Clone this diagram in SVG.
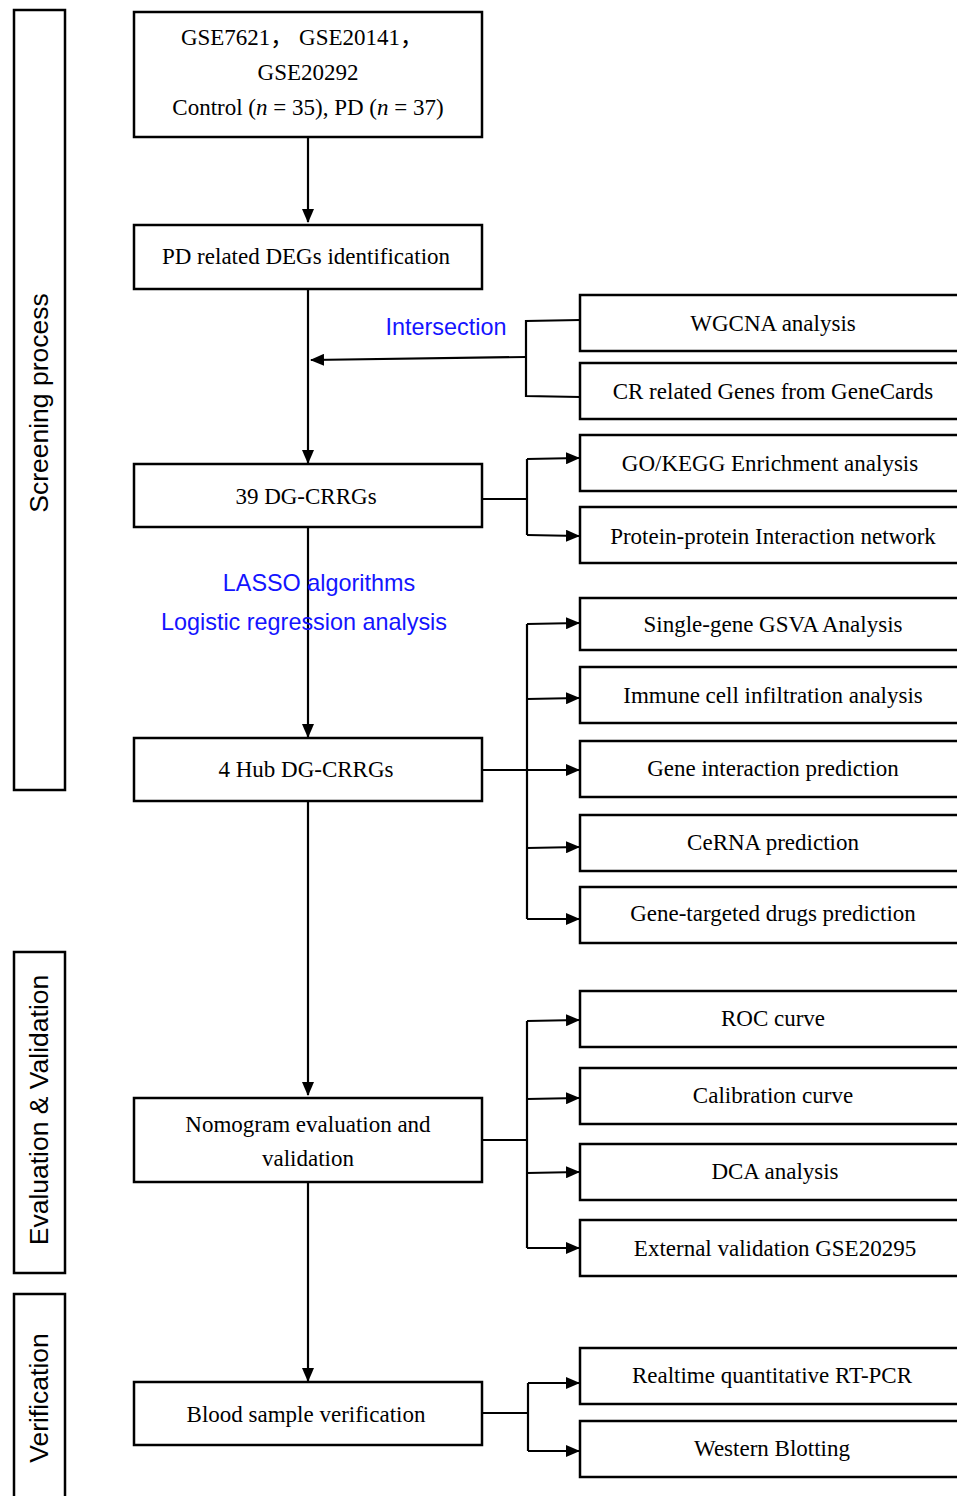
<svg xmlns="http://www.w3.org/2000/svg" width="957" height="1496" viewBox="0 0 957 1496">
<defs>
<marker id="ah" markerWidth="14" markerHeight="12" refX="13" refY="6" orient="auto" markerUnits="userSpaceOnUse">
<path d="M0,0 L14,6 L0,12 Z" fill="#000"/>
</marker>
<style>
.box{fill:#fff;stroke:#000;stroke-width:2.5}
.t{font-family:"Liberation Serif","Times New Roman","Noto Sans CJK SC",serif;font-size:23px;fill:#000;text-anchor:middle;dominant-baseline:central}
.b{font-family:"Liberation Sans",Arial,sans-serif;font-size:23.4px;fill:#1414ff;text-anchor:middle;dominant-baseline:central}
.v{font-family:"Liberation Sans",Arial,sans-serif;font-size:26.5px;fill:#000;text-anchor:middle;dominant-baseline:central}
.ln{fill:none;stroke:#000;stroke-width:2.2}
.ar{fill:none;stroke:#000;stroke-width:2.2;marker-end:url(#ah)}
</style>
</defs>
<rect width="957" height="1496" fill="#fff"/>
<g id="side-labels">
<g id="screening"><rect class="box" x="14" y="10" width="51" height="780"/><text class="v" transform="translate(39,403) rotate(-90)">Screening process</text></g>
<g id="evaluation"><rect class="box" x="14" y="952" width="51" height="321"/><text class="v" transform="translate(39,1110) rotate(-90)">Evaluation &amp; Validation</text></g>
<g id="verification"><rect class="box" x="14" y="1294" width="51" height="215"/><text class="v" transform="translate(39,1398) rotate(-90)">Verification</text></g>
</g>
<g id="connectors">
<line class="ar" x1="308" y1="137" x2="308" y2="222"/>
<line class="ar" x1="308" y1="289" x2="308" y2="463"/>
<line class="ar" x1="308" y1="527" x2="308" y2="737"/>
<line class="ar" x1="308" y1="801" x2="308" y2="1095"/>
<line class="ar" x1="308" y1="1182" x2="308" y2="1381"/>
<polyline class="ln" points="580,320 526,321 526,396 580,397"/>
<line class="ar" x1="526" y1="357" x2="311" y2="360"/>
<polyline class="ln" points="482,499 527,499"/>
<line class="ln" x1="527" y1="459" x2="527" y2="535"/>
<line class="ar" x1="527" y1="459" x2="579" y2="458"/>
<line class="ar" x1="527" y1="535" x2="579" y2="536"/>
<line class="ln" x1="527" y1="624" x2="527" y2="919"/>
<line class="ar" x1="480" y1="770" x2="579" y2="770"/>
<line class="ar" x1="527" y1="624" x2="579" y2="623"/>
<line class="ar" x1="527" y1="699" x2="579" y2="698"/>
<line class="ar" x1="527" y1="848" x2="579" y2="847"/>
<line class="ar" x1="527" y1="919" x2="579" y2="919"/>
<line class="ln" x1="482" y1="1140" x2="527" y2="1140"/>
<line class="ln" x1="527" y1="1021" x2="527" y2="1248"/>
<line class="ar" x1="527" y1="1021" x2="579" y2="1020"/>
<line class="ar" x1="527" y1="1099" x2="579" y2="1098"/>
<line class="ar" x1="527" y1="1173" x2="579" y2="1172"/>
<line class="ar" x1="527" y1="1248" x2="579" y2="1248"/>
<line class="ln" x1="482" y1="1413" x2="528" y2="1413"/>
<line class="ln" x1="528" y1="1383" x2="528" y2="1451"/>
<line class="ar" x1="528" y1="1383" x2="579" y2="1383"/>
<line class="ar" x1="528" y1="1451" x2="579" y2="1451"/>
<text class="b" x="446" y="327">Intersection</text>
<text class="b" x="319" y="583">LASSO algorithms</text>
<text class="b" x="304" y="622">Logistic regression analysis</text>
</g>
<g id="n1"><rect class="box" x="134" y="12" width="348" height="125"/>
<text class="t" x="302" y="37">GSE7621， GSE20141，</text>
<text class="t" x="308" y="72">GSE20292</text>
<text class="t" x="308" y="107">Control (<tspan font-style="italic">n</tspan> = 35), PD (<tspan font-style="italic">n</tspan> = 37)</text></g>
<g id="n2"><rect class="box" x="134" y="225" width="348" height="64"/><text class="t" x="306" y="256">PD related DEGs identification</text></g>
<g id="n3"><rect class="box" x="134" y="464" width="348" height="63"/><text class="t" x="306" y="496">39 DG-CRRGs</text></g>
<g id="n4"><rect class="box" x="134" y="738" width="348" height="63"/><text class="t" x="306" y="769">4 Hub DG-CRRGs</text></g>
<g id="n5"><rect class="box" x="134" y="1098" width="348" height="84"/><text class="t" x="308" y="1124">Nomogram evaluation and</text><text class="t" x="308" y="1158">validation</text></g>
<g id="n6"><rect class="box" x="134" y="1382" width="348" height="63"/><text class="t" x="306" y="1414">Blood sample verification</text></g>
<g id="r1"><rect class="box" x="580" y="295" width="390" height="56"/><text class="t" x="773" y="323">WGCNA analysis</text></g>
<g id="r2"><rect class="box" x="580" y="363" width="390" height="56"/><text class="t" x="773" y="391">CR related Genes from GeneCards</text></g>
<g id="r3"><rect class="box" x="580" y="435" width="390" height="56"/><text class="t" x="770" y="463">GO/KEGG Enrichment analysis</text></g>
<g id="r4"><rect class="box" x="580" y="507" width="390" height="56"/><text class="t" x="773" y="536">Protein-protein Interaction network</text></g>
<g id="r5"><rect class="box" x="580" y="598" width="390" height="52"/><text class="t" x="773" y="624">Single-gene GSVA Analysis</text></g>
<g id="r6"><rect class="box" x="580" y="667" width="390" height="56"/><text class="t" x="773" y="695">Immune cell infiltration analysis</text></g>
<g id="r7"><rect class="box" x="580" y="741" width="390" height="56"/><text class="t" x="773" y="768">Gene interaction prediction</text></g>
<g id="r8"><rect class="box" x="580" y="815" width="390" height="56"/><text class="t" x="773" y="842">CeRNA prediction</text></g>
<g id="r9"><rect class="box" x="580" y="887" width="390" height="56"/><text class="t" x="773" y="913">Gene-targeted drugs prediction</text></g>
<g id="r10"><rect class="box" x="580" y="991" width="390" height="56"/><text class="t" x="773" y="1018">ROC curve</text></g>
<g id="r11"><rect class="box" x="580" y="1068" width="390" height="56"/><text class="t" x="773" y="1095">Calibration curve</text></g>
<g id="r12"><rect class="box" x="580" y="1144" width="390" height="56"/><text class="t" x="775" y="1171">DCA analysis</text></g>
<g id="r13"><rect class="box" x="580" y="1220" width="390" height="56"/><text class="t" x="775" y="1248">External validation GSE20295</text></g>
<g id="r14"><rect class="box" x="580" y="1348" width="390" height="56"/><text class="t" x="772" y="1375">Realtime quantitative RT-PCR</text></g>
<g id="r15"><rect class="box" x="580" y="1421" width="390" height="56"/><text class="t" x="772" y="1448">Western Blotting</text></g>
</svg>
